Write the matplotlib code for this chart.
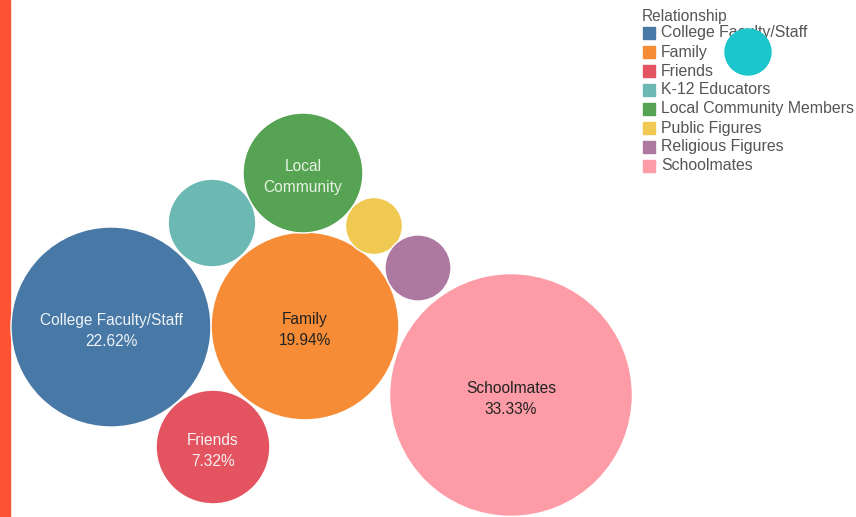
import numpy as np
import matplotlib.pyplot as plt
from matplotlib.patches import Circle, Rectangle

# share of responses per relationship (%)
categories = ["College Faculty/Staff", "Family", "Friends", "K-12 Educators",
              "Local Community Members", "Public Figures", "Religious Figures",
              "Schoolmates"]
shares = [22.62, 19.94, 7.32, 4.35, 8.13, 1.84, 2.47, 33.33]
bubble_labels = ["College Faculty/Staff\n22.62%", "Family\n19.94%", "Friends\n7.32%",
                 "", "Local\nCommunity", "", "", "Schoolmates\n33.33%"]

colors = ["#4878a6", "#f68d36", "#e35460", "#6cb9b3", "#55a353",
          "#f0c952", "#ad79a1", "#fd9ca6"]
text_colors = ["#eef3f8", "#222222", "#f8f0f0", "white", "#e8f2e4",
               "white", "white", "#222222"]

# packed bubble centres (pixel layout)
centres = [(111, 327), (305, 326), (213, 447), (212, 223),
           (303, 173), (374, 226), (418, 268), (511, 395)]

PX_PER_SQRT = 21.03  # radius scale: area proportional to share

W, H = 856, 517
fig = plt.figure(figsize=(W / 100, H / 100), dpi=100)
ax = fig.add_axes([0, 0, 1, 1])
ax.set_xlim(0, W)
ax.set_ylim(H, 0)
ax.set_aspect("equal")
ax.axis("off")

# orange strip on the left edge
ax.add_patch(Rectangle((0, 0), 10, H, color="#fd5334", zorder=1))

for cat, v, (cx, cy), col, lab, tc in zip(categories, shares, centres,
                                          colors, bubble_labels, text_colors):
    r = PX_PER_SQRT * np.sqrt(v)
    ax.add_patch(Circle((cx, cy), r, facecolor=col, edgecolor="white",
                        linewidth=1.0, zorder=2))
    if lab:
        ax.text(cx, cy + 4, lab, ha="center", va="center", color=tc,
                fontsize=11.2, family="Liberation Sans", linespacing=1.45, zorder=3)

# legend
ax.text(642, 16, "Relationship", ha="left", va="center", color="#555555",
        fontsize=11.2, family="Liberation Sans")
for i, (cat, col) in enumerate(zip(categories, colors)):
    y = 33 + i * 19
    ax.add_patch(Rectangle((643, y - 6), 12, 12, color=col, zorder=3))
    ax.text(661, y, cat, ha="left", va="center", color="#555555",
            fontsize=11.4, family="Liberation Sans", zorder=3)

# hover marker over the legend
ax.add_patch(Circle((748, 52), 23, color="#1dc5cc", zorder=4))

fig.savefig("out.png", dpi=100)
